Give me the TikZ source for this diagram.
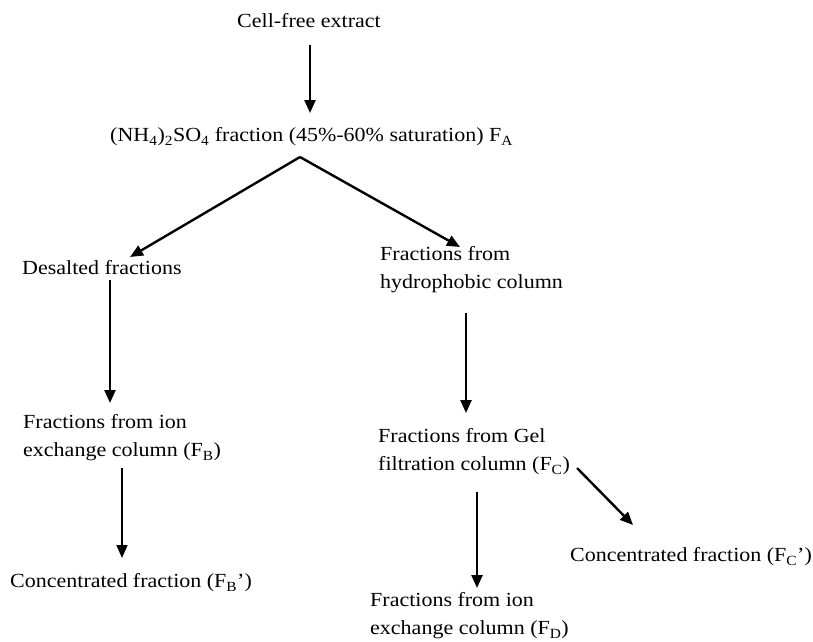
\documentclass[tikz,border=0pt]{standalone}
\usepackage{fontspec}
\setmainfont{Liberation Serif}[FakeStretch=1.1]
\usetikzlibrary{arrows.meta}
\begin{document}
\begin{tikzpicture}[x=1pt,y=-1pt,
  lbl/.style={anchor=west,inner sep=0pt,align=left,font=\fontsize{20}{28}\selectfont},
  thick arr/.style={line width=2.4pt,-{Triangle[length=13pt,width=11pt]}},
  thin arr/.style={line width=1.6pt,-{Triangle[length=13pt,width=11pt]}}]
\useasboundingbox (0,0) rectangle (813,641);
\fill[white] (0,0) rectangle (813,641);
\node[lbl] (cfe) at (237,21) {Cell-free extract};
\node[lbl] (fa) at (110,137) {(NH\textsubscript{4})\textsubscript{2}SO\textsubscript{4} fraction (45\%-60\% saturation) F\textsubscript{A}};
\node[lbl] (des) at (22,268) {Desalted fractions};
\node[lbl] (hyd) at (380,270) {Fractions from\\hydrophobic column};
\node[lbl] (fb) at (23,438) {Fractions from ion\\exchange column (F\textsubscript{B})};
\node[lbl] (fc) at (378,452) {Fractions from Gel\\filtration column (F\textsubscript{C})};
\node[lbl] (fbp) at (10,583) {Concentrated fraction (F\textsubscript{B}')};
\node[lbl] (fcp) at (570,557) {Concentrated fraction (F\textsubscript{C}')};
\node[lbl] (fd) at (370,616) {Fractions from ion\\exchange column (F\textsubscript{D})};
% connector endpoints
\coordinate (a1s) at (310,45);  \coordinate (a1e) at (310,113);
\coordinate (apex) at (300,157);
\coordinate (lt) at (130,257);  \coordinate (rt) at (460,247);
\coordinate (a3s) at (110,280); \coordinate (a3e) at (110,403);
\coordinate (a4s) at (122,468); \coordinate (a4e) at (122,558);
\coordinate (a5s) at (466,313); \coordinate (a5e) at (466,413);
\coordinate (a6s) at (577,468); \coordinate (a6e) at (633,525);
\coordinate (a7s) at (477,492); \coordinate (a7e) at (477,588);
\draw[thick arr] (a1s) -- (a1e);
\draw[thick arr] (apex) -- (lt);
\draw[thick arr] (apex) -- (rt);
\draw[thick arr] (a3s) -- (a3e);
\draw[thin arr] (a4s) -- (a4e);
\draw[thick arr] (a5s) -- (a5e);
\draw[thick arr] (a6s) -- (a6e);
\draw[thick arr] (a7s) -- (a7e);
\end{tikzpicture}
\end{document}
